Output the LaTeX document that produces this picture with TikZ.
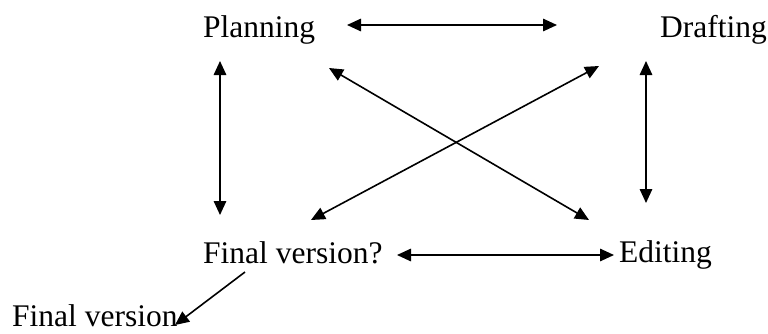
\documentclass[tikz,border=0pt]{standalone}
\usepackage{fontspec}
\setmainfont{Liberation Serif}
\usetikzlibrary{arrows.meta}
\begin{document}
\begin{tikzpicture}[x=1pt,y=-1pt,
  lbl/.style={anchor=base west,inner sep=0pt,font=\fontsize{31.5}{36}\selectfont},
  conn/.style={line width=1.6pt,{Triangle[length=14pt,width=12.5pt]}-{Triangle[length=14pt,width=12.5pt]}},
  oneway/.style={line width=1.6pt,-{Triangle[length=14pt,width=12.5pt]}}]
\useasboundingbox (0,0) rectangle (768,333);
\node[lbl] (plan) at (203,37) {Planning};
\node[lbl] (draft) at (660,37) {Drafting};
\node[lbl] (fvq) at (203,263) {Final version?};
\node[lbl] (edit) at (619,262) {Editing};
\node[lbl] (fv) at (12,326) {Final version};
% endpoints
\coordinate (pd1) at (347,25);
\coordinate (pd2) at (557,25);
\coordinate (pf1) at (220,61);
\coordinate (pf2) at (220,215);
\coordinate (de1) at (646,61);
\coordinate (de2) at (646,203);
\coordinate (pe1) at (329,68);
\coordinate (pe2) at (589,220);
\coordinate (df1) at (599,66);
\coordinate (df2) at (311,220);
\coordinate (fe1) at (397,255);
\coordinate (fe2) at (614,255);
\coordinate (ff1) at (245,272);
\coordinate (ff2) at (175,325);
\draw[conn] (pd1) -- (pd2);
\draw[conn] (pf1) -- (pf2);
\draw[conn] (de1) -- (de2);
\draw[conn] (pe1) -- (pe2);
\draw[conn] (df1) -- (df2);
\draw[conn] (fe1) -- (fe2);
\draw[oneway] (ff1) -- (ff2);
\end{tikzpicture}
\end{document}
